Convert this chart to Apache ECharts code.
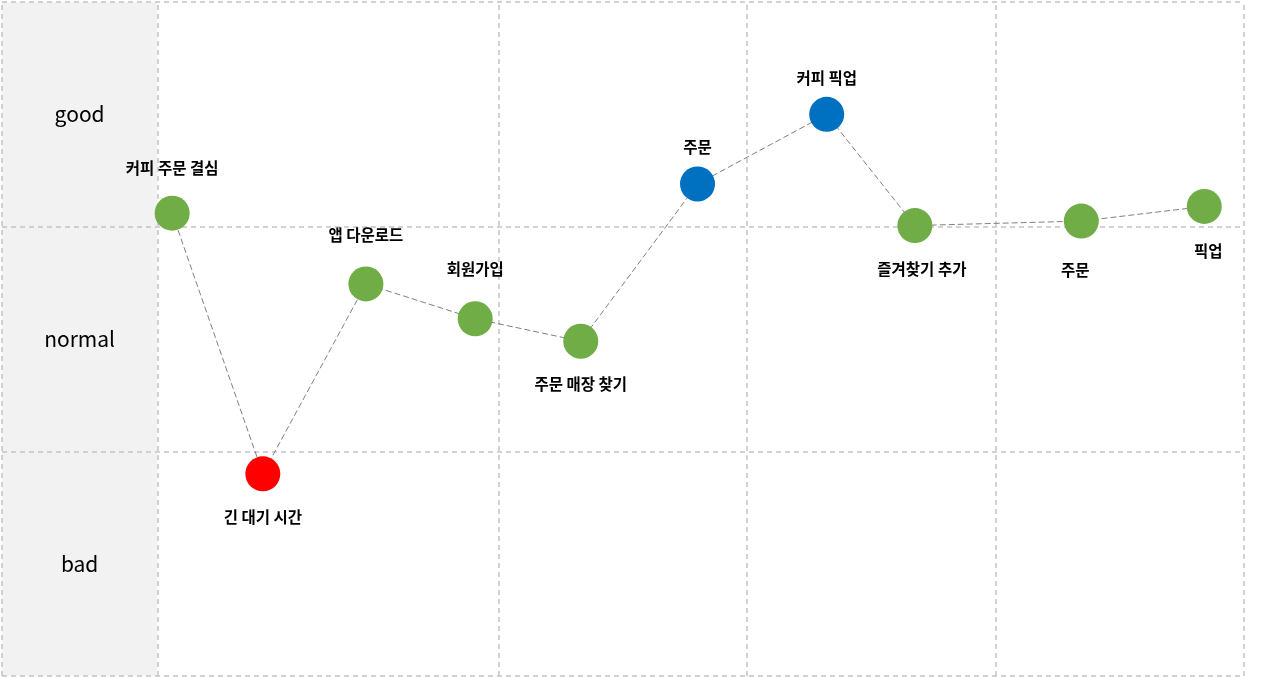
<!DOCTYPE html>
<html>
<head>
<meta charset="utf-8">
<title>고객 여정 지도</title>
<script src="https://cdn.jsdelivr.net/npm/echarts@6/dist/echarts.min.js"></script>
<style>
  html, body { margin: 0; padding: 0; background: #fff; }
  #journey_main { width: 1280px; height: 678px; }
</style>
</head>
<body>
<div id="journey_main"></div>
<script>
// 여정 단계 데이터
var stepNames = ['커피 주문 결심', '긴 대기 시간', '앱 다운로드', '회원가입', '주문 매장 찾기',
                 '주문', '커피 픽업', '즐겨찾기 추가', '주문', '픽업'];
var stepX = [13.7, 21.0, 29.3, 38.1, 46.6, 56.0, 66.4, 73.5, 86.9, 96.8];
var stepScore = [2.06, 0.90, 1.745, 1.59, 1.49, 2.19, 2.50, 2.005, 2.025, 2.09];
var stepMood = ['neutral', 'negative', 'neutral', 'neutral', 'neutral',
                'positive', 'positive', 'neutral', 'neutral', 'neutral'];

// 구간 구분
var rowLabels = ['bad', 'normal', 'good'];
var rowBounds = [0, 1, 2, 3];
var colBounds = [0, 12.5, 40, 60, 80, 100];

// 스타일
var moodColor = { positive: '#0070c0', neutral: '#70ad47', negative: '#ff0000' };
// [위치, 간격, 가로 이동]
var labelPlace = [
    ['top', 20, 0], ['bottom', 18, 0], ['top', 24, 0], ['top', 24, 0], ['bottom', 18, 0],
    ['top', 12, 0], ['top', 11, 0], ['bottom', 18, 7], ['bottom', 24, -6], ['bottom', 19, 4]
];
var gridLine = { color: '#c3c3c3', type: [5, 4], width: 1.5 };

var myChart = echarts.init(document.getElementById('journey_main'));

var points = stepNames.map(function (name, i) {
    var p = labelPlace[i];
    return {
        name: name,
        value: [stepX[i], stepScore[i]],
        itemStyle: { color: moodColor[stepMood[i]] },
        label: { position: p[0], distance: p[1], offset: [p[2], 0] }
    };
});

var rowAreas = rowLabels.map(function (txt, i) {
    return [
        { name: txt, xAxis: colBounds[0], yAxis: rowBounds[i] },
        { xAxis: colBounds[1], yAxis: rowBounds[i + 1] }
    ];
});

var lines = [];
rowBounds.forEach(function (v) { lines.push({ yAxis: v }); });
colBounds.forEach(function (v) { lines.push({ xAxis: v }); });

var option = {
    animation: false,
    grid: { left: 2, right: 36, top: 2, bottom: 2 },
    xAxis: {
        type: 'value', min: 0, max: 100, show: false
    },
    yAxis: {
        type: 'value', min: 0, max: 3, interval: 1, show: false
    },
    series: [{
        type: 'line',
        data: points,
        symbol: 'circle',
        symbolSize: 35,
        clip: false,
        z: 3,
        lineStyle: { color: '#7f7f7f', width: 1, type: [6, 3] },
        label: {
            show: true,
            formatter: '{b}',
            fontFamily: 'Noto Sans CJK KR',
            fontWeight: 'bold',
            fontSize: 15.5,
            color: '#000'
        },
        markArea: {
            silent: true,
            z: 1,
            itemStyle: { color: '#f2f2f2' },
            label: {
                show: true,
                position: 'inside',
                fontFamily: 'Noto Sans CJK KR',
                fontSize: 21,
                color: '#000'
            },
            data: rowAreas
        },
        markLine: {
            silent: true,
            z: 1.5,
            symbol: 'none',
            label: { show: false },
            lineStyle: gridLine,
            data: lines
        }
    }]
};

myChart.setOption(option);
</script>
</body>
</html>
